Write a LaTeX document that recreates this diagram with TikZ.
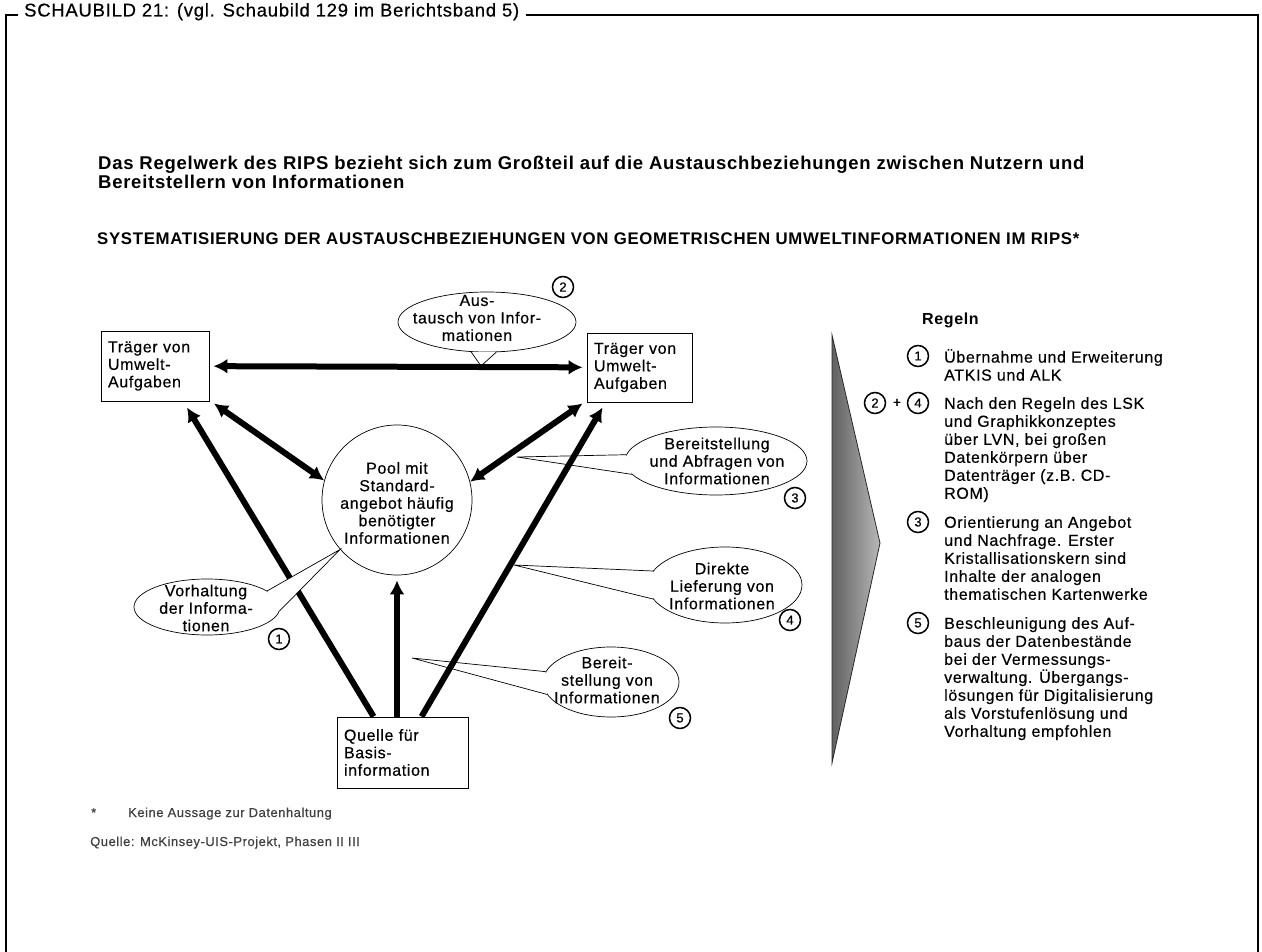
\documentclass[tikz,border=0pt]{standalone}
\usepackage{fontspec}
\setmainfont{Liberation Sans}[LetterSpace=4, UprightFeatures={FakeBold=0.4}]
\usetikzlibrary{shapes.geometric,arrows.meta,calc}
\newcommand\fsz[2]{\fontsize{#1}{#2}\selectfont}

\begin{document}
\begin{tikzpicture}[x=1pt,y=-1pt,
  rahmen/.style={line width=1.2pt},
  txt/.style={font=\fsz{16}{17.5}, inner sep=0pt, align=center},
  taskbox/.style={draw, line width=0.9pt, fill=white, rectangle, inner xsep=7pt,
    inner ysep=0pt, align=left, font=\fsz{16}{17.5}},
  bubble/.style={draw, ellipse, line width=0.7pt, fill=white, inner sep=0pt},
  calltail/.style={line width=0.7pt},
  num/.style={circle, draw, line width=1.5pt, minimum size=21pt, inner sep=0pt,
    font=\fsz{13}{13}},
  regeltext/.style={anchor=north west, inner sep=0pt, align=left, font=\fsz{16}{18}},
  notetext/.style={anchor=base west, inner sep=0pt, font=\fsz{13}{15}, text=black!75},
  flow/.style={line width=6pt, -{Latex[length=14pt,width=15pt]}},
  flow2/.style={line width=6pt, {Latex[length=14pt,width=15pt]}-{Latex[length=14pt,width=15pt]}},
]
\useasboundingbox (0,0) rectangle (1262,952);
\fill[white] (0,0) rectangle (1262,952);

% frame with caption in the top rule
\node[anchor=base west, inner sep=0pt, font=\fsz{18.5}{20}] (title) at (24,16.5)
  {SCHAUBILD 21: (vgl. Schaubild 129 im Berichtsband 5)};
\draw[rahmen] (6,952) -- (6,15) -- (18,15);
\draw[rahmen] ($(title.base east)+(7,-1.5)$) -- (1258,15) -- (1258,952);

% headings
\node[anchor=base west, inner sep=0pt, font=\bfseries\fsz{18.5}{20}] (head1) at (98,170)
  {Das Regelwerk des RIPS bezieht sich zum Großteil auf die Austauschbeziehungen zwischen Nutzern und};
\node[anchor=base west, inner sep=0pt, font=\bfseries\fsz{18.5}{20}] (head2) at (98,189)
  {Bereitstellern von Informationen};
\node[anchor=base west, inner sep=0pt, font=\bfseries\fsz{16.8}{18}] (sub) at (97,245)
  {SYSTEMATISIERUNG DER AUSTAUSCHBEZIEHUNGEN VON GEOMETRISCHEN UMWELTINFORMATIONEN IM RIPS*};

% actors
\node[taskbox, minimum width=108pt, minimum height=70pt, text width=94pt] (lbox) at (155,366)
  {Träger von\\Umwelt-\\Aufgaben};
\node[taskbox, minimum width=105pt, minimum height=69pt, text width=91pt] (rbox) at (639.5,367.5)
  {Träger von\\Umwelt-\\Aufgaben};
\node[taskbox, minimum width=131pt, minimum height=71pt, text width=117pt] (quelle) at (402.5,752.5)
  {Quelle für\\Basis-\\information};
\node[circle, draw, line width=0.7pt, fill=white, minimum size=150pt, inner sep=0pt] (pool) at (397,500) {};
\node[txt] (pooltext) at (397,503)
  {Pool mit\\Standard-\\angebot häufig\\benötigter\\Informationen};

% big pointer towards the rules
\shade[left color=black!62, right color=black!28] (832,335) -- (880,543) -- (832,763) -- cycle;
\draw[line width=0.8pt, black!85] (832,335) -- (880,543) -- (832,763) -- cycle;

% rules
\node[anchor=base west, inner sep=0pt, font=\bfseries\fsz{16}{18}] (regeln) at (922,325) {Regeln};
\node[num] (n1) at (918,356) {1};
\node[regeltext] (rule1) at (944,349) {\strut Übernahme und Erweiterung\\ATKIS und ALK};
\node[num] (n2) at (875,403) {2};
\node[font=\fsz{14}{14}, inner sep=0pt] (plus) at (897,403) {+};
\node[num] (n4) at (918,403) {4};
\node[regeltext] (rule24) at (944,396) {\strut Nach den Regeln des LSK\\und Graphikkonzeptes\\über LVN, bei großen\\Datenkörpern über\\Datenträger (z.B. CD-\\ROM)};
\node[num] (n3) at (918,522) {3};
\node[regeltext] (rule3) at (944,515) {\strut Orientierung an Angebot\\und Nachfrage. Erster\\Kristallisationskern sind\\Inhalte der analogen\\thematischen Kartenwerke};
\node[num] (n5) at (918,623) {5};
\node[regeltext] (rule5) at (944,616) {\strut Beschleunigung des Auf-\\baus der Datenbestände\\bei der Vermessungs-\\verwaltung. Übergangs-\\lösungen für Digitalisierung\\als Vorstufenlösung und\\Vorhaltung empfohlen};

% callouts lying under the arrows
\node[bubble, minimum width=178pt, minimum height=60pt] (aust) at (487,322) {};
\coordinate (austtip) at (481,366);
\draw[calltail, fill=white] (aust.242) -- (austtip) -- (aust.287);
\node[txt] (austtext) at (477,318) {Aus-\\tausch von Infor-\\mationen};

\node[bubble, minimum width=182pt, minimum height=68pt] (abfr) at (716,461) {};
\coordinate (abfrtip) at (517,457);
\draw[calltail, fill=white] (abfr.176) -- (abfrtip) -- (abfr.189);
\node[txt] (abfrtext) at (717,461) {Bereitstellung\\und Abfragen von\\Informationen};

\node[bubble, minimum width=154pt, minimum height=76pt] (dirl) at (725,585) {};
\coordinate (dirltip) at (514,565);
\draw[calltail, fill=white] (dirl.169) -- (dirltip) -- (dirl.191);
\node[txt] (dirltext) at (722,586) {Direkte\\Lieferung von\\Informationen};

\node[bubble, minimum width=136pt, minimum height=70pt] (bere) at (611,682) {};
\coordinate (beretip) at (412,658);
\draw[calltail, fill=white] (bere.171) -- (beretip) -- (bere.191);
\node[txt] (beretext) at (607,680) {Bereit-\\stellung von\\Informationen};

% information flows
\draw[flow2, shorten <=4pt, shorten >=4pt] (lbox) -- (rbox);
\draw[flow2] ($(lbox.south east)+(4.5,2)$) -- (pool.165);
\draw[flow2] ($(rbox.south west)+(-4,1)$) -- (pool.14);
\draw[flow] ($(quelle.north west)+(37,0)$) -- ($(lbox.south)+(32,6)$);
\draw[flow] (pool.south |- quelle.north) -- ($(pool.south)+(0,5)$);
\draw[flow] ($(quelle.north west)+(85,0)$) -- ($(rbox.south west)+(16,5)$);

% callout lying over the arrows
\node[bubble, minimum width=146pt, minimum height=56pt] (vorh) at (207,607) {};
\draw[calltail, fill=white] (vorh.15) -- (pool.221) -- (vorh.357);
\node[txt] (vorhtext) at (206,608) {Vorhaltung\\der Informa-\\tionen};

% rule numbers at the callouts
\node[num] (c1) at (279,639) {1};
\node[num] (c2) at (563,287) {2};
\node[num] (c3) at (795,498) {3};
\node[num] (c4) at (790,620) {4};
\node[num] (c5) at (680,718) {5};

% notes
\node[notetext] (star) at (91,817) {*};
\node[notetext] (note) at (128,817) {Keine Aussage zur Datenhaltung};
\node[notetext] (src) at (90,846) {Quelle: McKinsey-UIS-Projekt, Phasen II III};
\end{tikzpicture}
\end{document}
